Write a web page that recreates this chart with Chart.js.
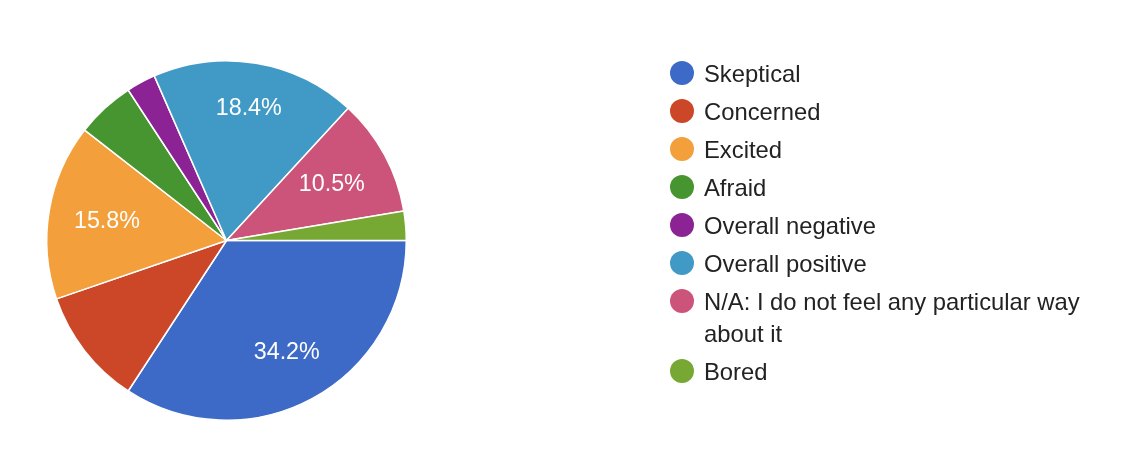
<!DOCTYPE html>
<html>
<head>
<meta charset="utf-8">
<script src="https://cdn.jsdelivr.net/npm/chart.js@4"></script>
<style>
  html, body { margin: 0; padding: 0; background: #ffffff; }
  #wrap { position: relative; width: 1138px; height: 464px; overflow: hidden; }
  #c { position: absolute; left: 0; top: 0; }
  #legend { position: absolute; left: 670px; top: 58px; width: 430px;
    font-family: "Liberation Sans", Arial, sans-serif; font-size: 23.8px; line-height: 32px; color: #222222; }
  .item { display: flex; align-items: flex-start; margin-bottom: 6px; }
  .dot { width: 24px; height: 24px; border-radius: 50%; margin-top: 3px; flex: 0 0 24px; }
  .txt { margin-left: 10px; width: 396px; }
</style>
</head>
<body>
<div id="wrap">
  <canvas id="c" width="1138" height="464"></canvas>
  <div id="legend"></div>
</div>
<script>
const categories = ["Skeptical", "Concerned", "Excited", "Afraid", "Overall negative", "Overall positive", "N/A: I do not feel any particular way about it", "Bored"];
const responses = [13, 4, 6, 2, 1, 7, 4, 1];
const sliceColors = ["#3e6ac7", "#cb4727", "#f39f3b", "#479530", "#8b2395", "#409ac5", "#cc5379", "#77a834"];
const showPercent = [true, false, true, false, false, true, true, false];

const sliceLabelPlugin = {
  id: 'sliceLabels',
  afterDatasetsDraw(chart) {
    const ctx = chart.ctx;
    const meta = chart.getDatasetMeta(0);
    const data = chart.data.datasets[0].data;
    const total = data.reduce((a, b) => a + b, 0);
    ctx.save();
    ctx.fillStyle = '#ffffff';
    ctx.font = '23.3px "Liberation Sans", Arial, sans-serif';
    ctx.textAlign = 'center';
    ctx.textBaseline = 'middle';
    meta.data.forEach((arc, i) => {
      if (!showPercent[i]) return;
      const p = arc.getProps(['x', 'y', 'startAngle', 'endAngle', 'outerRadius'], true);
      const mid = (p.startAngle + p.endAngle) / 2;
      const pct = (data[i] / total * 100).toFixed(1) + '%';
      const halfW = ctx.measureText(pct).width / 2;
      const r = p.outerRadius * 0.87 - Math.abs(Math.cos(mid)) * halfW - Math.abs(Math.sin(mid)) * 16;
      ctx.fillText(pct, p.x + Math.cos(mid) * r, p.y + Math.sin(mid) * r + 1);
    });
    ctx.restore();
  }
};

new Chart(document.getElementById('c'), {
  type: 'pie',
  data: {
    labels: categories,
    datasets: [{
      data: responses,
      backgroundColor: sliceColors,
      borderColor: '#ffffff',
      borderWidth: 1.5
    }]
  },
  options: {
    responsive: false,
    animation: false,
    rotation: 90,
    layout: { padding: { left: 46, top: 60, right: 731, bottom: 43 } },
    plugins: { legend: { display: false }, tooltip: { enabled: false } }
  },
  plugins: [sliceLabelPlugin]
});

const legend = document.getElementById('legend');
categories.forEach((name, i) => {
  const item = document.createElement('div');
  item.className = 'item';
  const dot = document.createElement('div');
  dot.className = 'dot';
  dot.style.background = sliceColors[i];
  const txt = document.createElement('div');
  txt.className = 'txt';
  txt.textContent = name;
  item.appendChild(dot);
  item.appendChild(txt);
  legend.appendChild(item);
});
</script>
</body>
</html>
